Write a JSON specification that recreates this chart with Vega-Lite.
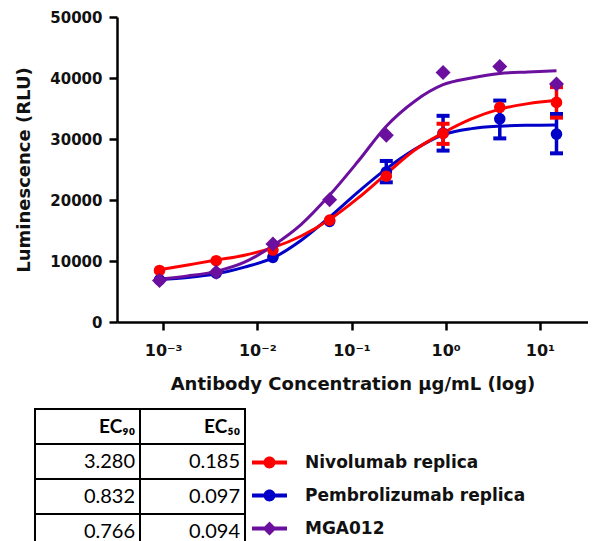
{
  "$schema": "https://vega.github.io/schema/vega-lite/v6.json",
  "background": "white",
  "padding": {"left": 15, "top": 10, "right": 0, "bottom": 0},
  "spacing": 15,
  "config": {"view": {"stroke": null}, "font": "DejaVu Sans"},
  "datasets": {
    "curves": [
      {"series": "Pembrolizumab replica", "conc": 0.000916, "rlu": 6950},
      {"series": "Pembrolizumab replica", "conc": 0.00183, "rlu": 7300},
      {"series": "Pembrolizumab replica", "conc": 0.00366, "rlu": 7900},
      {"series": "Pembrolizumab replica", "conc": 0.00732, "rlu": 9000},
      {"series": "Pembrolizumab replica", "conc": 0.01465, "rlu": 10500},
      {"series": "Pembrolizumab replica", "conc": 0.0293, "rlu": 13400},
      {"series": "Pembrolizumab replica", "conc": 0.0586, "rlu": 17200},
      {"series": "Pembrolizumab replica", "conc": 0.117, "rlu": 21300},
      {"series": "Pembrolizumab replica", "conc": 0.234, "rlu": 25100},
      {"series": "Pembrolizumab replica", "conc": 0.469, "rlu": 28300},
      {"series": "Pembrolizumab replica", "conc": 0.9375, "rlu": 30700},
      {"series": "Pembrolizumab replica", "conc": 1.875, "rlu": 31700},
      {"series": "Pembrolizumab replica", "conc": 3.75, "rlu": 32100},
      {"series": "Pembrolizumab replica", "conc": 7.5, "rlu": 32250},
      {"series": "Pembrolizumab replica", "conc": 15, "rlu": 32300},
      {"series": "Nivolumab replica", "conc": 0.000916, "rlu": 8550},
      {"series": "Nivolumab replica", "conc": 0.00183, "rlu": 9350},
      {"series": "Nivolumab replica", "conc": 0.00366, "rlu": 10150},
      {"series": "Nivolumab replica", "conc": 0.00732, "rlu": 10950},
      {"series": "Nivolumab replica", "conc": 0.01465, "rlu": 12200},
      {"series": "Nivolumab replica", "conc": 0.0293, "rlu": 14100},
      {"series": "Nivolumab replica", "conc": 0.0586, "rlu": 16800},
      {"series": "Nivolumab replica", "conc": 0.117, "rlu": 20300},
      {"series": "Nivolumab replica", "conc": 0.234, "rlu": 24300},
      {"series": "Nivolumab replica", "conc": 0.469, "rlu": 28200},
      {"series": "Nivolumab replica", "conc": 0.9375, "rlu": 31000},
      {"series": "Nivolumab replica", "conc": 1.875, "rlu": 33300},
      {"series": "Nivolumab replica", "conc": 3.75, "rlu": 34900},
      {"series": "Nivolumab replica", "conc": 7.5, "rlu": 35800},
      {"series": "Nivolumab replica", "conc": 15, "rlu": 36350},
      {"series": "MGA012", "conc": 0.000916, "rlu": 7050},
      {"series": "MGA012", "conc": 0.00183, "rlu": 7550},
      {"series": "MGA012", "conc": 0.00366, "rlu": 8300},
      {"series": "MGA012", "conc": 0.00732, "rlu": 9800},
      {"series": "MGA012", "conc": 0.01465, "rlu": 12500},
      {"series": "MGA012", "conc": 0.0293, "rlu": 16000},
      {"series": "MGA012", "conc": 0.0586, "rlu": 20800},
      {"series": "MGA012", "conc": 0.117, "rlu": 26300},
      {"series": "MGA012", "conc": 0.234, "rlu": 32100},
      {"series": "MGA012", "conc": 0.469, "rlu": 36200},
      {"series": "MGA012", "conc": 0.9375, "rlu": 38900},
      {"series": "MGA012", "conc": 1.875, "rlu": 40000},
      {"series": "MGA012", "conc": 3.75, "rlu": 40750},
      {"series": "MGA012", "conc": 7.5, "rlu": 41000},
      {"series": "MGA012", "conc": 15, "rlu": 41200}
    ],
    "points": [
      {"series": "Pembrolizumab replica", "conc": 0.000916, "rlu": 6900},
      {"series": "Pembrolizumab replica", "conc": 0.00366, "rlu": 8000},
      {"series": "Pembrolizumab replica", "conc": 0.01465, "rlu": 10600},
      {"series": "Pembrolizumab replica", "conc": 0.0586, "rlu": 16500},
      {"series": "Pembrolizumab replica", "conc": 0.234, "rlu": 24600, "lo": 22900, "hi": 26400},
      {"series": "Pembrolizumab replica", "conc": 0.9375, "rlu": 30950, "lo": 28100, "hi": 33800},
      {"series": "Pembrolizumab replica", "conc": 3.75, "rlu": 33300, "lo": 30100, "hi": 36300},
      {"series": "Pembrolizumab replica", "conc": 15, "rlu": 30800, "lo": 27650, "hi": 34100},
      {"series": "Nivolumab replica", "conc": 0.000916, "rlu": 8450},
      {"series": "Nivolumab replica", "conc": 0.00366, "rlu": 10050},
      {"series": "Nivolumab replica", "conc": 0.01465, "rlu": 11800},
      {"series": "Nivolumab replica", "conc": 0.0586, "rlu": 16700},
      {"series": "Nivolumab replica", "conc": 0.234, "rlu": 23900},
      {"series": "Nivolumab replica", "conc": 0.9375, "rlu": 30900, "lo": 29200, "hi": 32500},
      {"series": "Nivolumab replica", "conc": 3.75, "rlu": 35200},
      {"series": "Nivolumab replica", "conc": 15, "rlu": 36000, "lo": 33500, "hi": 38500},
      {"series": "MGA012", "conc": 0.000916, "rlu": 6800},
      {"series": "MGA012", "conc": 0.00366, "rlu": 8150},
      {"series": "MGA012", "conc": 0.01465, "rlu": 12800},
      {"series": "MGA012", "conc": 0.0586, "rlu": 20050},
      {"series": "MGA012", "conc": 0.234, "rlu": 30600},
      {"series": "MGA012", "conc": 0.9375, "rlu": 40900},
      {"series": "MGA012", "conc": 3.75, "rlu": 41900},
      {"series": "MGA012", "conc": 15, "rlu": 39000}
    ],
    "table": [
      {"row": "hdr", "col": "EC90", "label": "EC₉₀"},
      {"row": "hdr", "col": "EC50", "label": "EC₅₀"},
      {"row": "Nivolumab replica", "col": "EC90", "label": "3.280"},
      {"row": "Nivolumab replica", "col": "EC50", "label": "0.185"},
      {"row": "Pembrolizumab replica", "col": "EC90", "label": "0.832"},
      {"row": "Pembrolizumab replica", "col": "EC50", "label": "0.097"},
      {"row": "MGA012", "col": "EC90", "label": "0.766"},
      {"row": "MGA012", "col": "EC50", "label": "0.094"}
    ]
  },
  "vconcat": [
    {
      "width": 471,
      "height": 305,
      "encoding": {
        "x": {
          "field": "conc", "type": "quantitative",
          "scale": {"type": "log", "domain": [0.000324, 32.4], "nice": false},
          "axis": {
            "values": [0.001, 0.01, 0.1, 1, 10],
            "labelExpr": "datum.value < 0.005 ? '10⁻³' : datum.value < 0.05 ? '10⁻²' : datum.value < 0.5 ? '10⁻¹' : datum.value < 5 ? '10⁰' : '10¹'",
            "title": "Antibody Concentration µg/mL (log)",
            "grid": false,
            "domainColor": "black", "domainWidth": 2.5,
            "tickColor": "black", "tickWidth": 2.5, "tickSize": 8,
            "labelFont": "DejaVu Sans", "labelFontSize": 16, "labelFontWeight": "bold", "labelColor": "#111",
            "labelPadding": 12, "labelFlush": false, "labelOverlap": false,
            "titleFont": "DejaVu Sans", "titleFontSize": 18, "titleFontWeight": "bold", "titleColor": "#111",
            "titlePadding": 17
          }
        },
        "y": {
          "field": "rlu", "type": "quantitative",
          "scale": {"domain": [0, 50000], "nice": false},
          "axis": {
            "values": [0, 10000, 20000, 30000, 40000, 50000],
            "format": "d",
            "title": "Luminescence (RLU)",
            "grid": false,
            "domainColor": "black", "domainWidth": 2.5,
            "tickColor": "black", "tickWidth": 2.5, "tickSize": 8,
            "labelFont": "DejaVu Sans", "labelFontSize": 15, "labelFontWeight": "bold", "labelColor": "#111",
            "labelPadding": 7,
            "titleFont": "DejaVu Sans", "titleFontSize": 18, "titleFontWeight": "bold", "titleColor": "#111",
            "titlePadding": 16
          }
        },
        "color": {
          "field": "series", "type": "nominal",
          "scale": {"domain": ["Nivolumab replica", "Pembrolizumab replica", "MGA012"], "range": ["#FF0000", "#0000C8", "#6B0F9E"]}
        }
      },
      "layer": [
        {
          "data": {"name": "curves"},
          "mark": {"type": "line", "strokeWidth": 3, "interpolate": "monotone"}
        },
        {
          "data": {"name": "points"},
          "transform": [{"filter": "isValid(datum.lo)"}],
          "mark": {"type": "rule", "strokeWidth": 3.5, "opacity": 1},
          "encoding": {"y": {"field": "lo", "type": "quantitative"}, "y2": {"field": "hi"}}
        },
        {
          "data": {"name": "points"},
          "transform": [{"filter": "isValid(datum.lo)"}, {"fold": ["lo", "hi"], "as": ["bound", "val"]}],
          "mark": {"type": "tick", "orient": "horizontal", "size": 13, "thickness": 4, "opacity": 1},
          "encoding": {"y": {"field": "val", "type": "quantitative"}}
        },
        {
          "data": {"name": "points"},
          "transform": [{"filter": "datum.series != 'MGA012'"}],
          "mark": {"type": "point", "shape": "circle", "filled": true, "size": 135, "opacity": 1}
        },
        {
          "data": {"name": "points"},
          "transform": [{"filter": "datum.series == 'MGA012'"}],
          "mark": {"type": "point", "shape": "diamond", "filled": true, "size": 225, "opacity": 1}
        },
        {
          "data": {"name": "points"},
          "mark": {"type": "point", "filled": true, "opacity": 0},
          "encoding": {
            "color": {
              "field": "series", "type": "nominal",
              "legend": {
                "orient": "none", "legendX": 135, "legendY": 428, "title": null,
                "symbolSize": 1225, "symbolOpacity": 1, "symbolStrokeWidth": 0,
                "labelFont": "DejaVu Sans", "labelFontSize": 17, "labelFontWeight": "bold", "labelColor": "#111",
                "labelOffset": 18, "rowPadding": 7, "labelLimit": 400
              }
            },
            "shape": {
              "field": "series", "type": "nominal",
              "scale": {
                "domain": ["Nivolumab replica", "Pembrolizumab replica", "MGA012"],
                "range": [
                  "M-1,-0.11H1V0.11H-1Z M0.34,0A0.34,0.34,0,1,1,-0.34,0A0.34,0.34,0,1,1,0.34,0Z",
                  "M-1,-0.11H1V0.11H-1Z M0.34,0A0.34,0.34,0,1,1,-0.34,0A0.34,0.34,0,1,1,0.34,0Z",
                  "M-1,-0.11H1V0.11H-1Z M0,-0.4L0.4,0L0,0.4L-0.4,0Z"
                ]
              },
              "legend": {
                "orient": "none", "legendX": 135, "legendY": 428, "title": null,
                "symbolSize": 1225, "symbolOpacity": 1, "symbolStrokeWidth": 0,
                "labelFont": "DejaVu Sans", "labelFontSize": 17, "labelFontWeight": "bold", "labelColor": "#111",
                "labelOffset": 18, "rowPadding": 7, "labelLimit": 400
              }
            }
          }
        }
      ]
    },
    {
      "width": 128,
      "height": 140,
      "data": {"name": "table"},
      "encoding": {
        "x": {"field": "col", "type": "nominal", "scale": {"type": "band", "domain": ["EC90", "EC50"], "range": [-82, 128], "paddingInner": 0, "paddingOuter": 0}, "axis": null},
        "y": {"field": "row", "type": "nominal", "scale": {"type": "band", "domain": ["hdr", "Nivolumab replica", "Pembrolizumab replica", "MGA012"], "paddingInner": 0, "paddingOuter": 0}, "axis": null}
      },
      "layer": [
        {"mark": {"type": "rect", "fill": "white", "stroke": "black", "strokeWidth": 2}},
        {
          "transform": [{"filter": "datum.row == 'hdr'"}],
          "mark": {"type": "text", "align": "right", "baseline": "middle", "dx": -5, "font": "Lato", "fontWeight": "bold", "fontSize": 19, "color": "black"},
          "encoding": {"x": {"field": "col", "type": "nominal", "bandPosition": 1}, "text": {"field": "label"}}
        },
        {
          "transform": [{"filter": "datum.row != 'hdr'"}],
          "mark": {"type": "text", "align": "right", "baseline": "middle", "dx": -5, "font": "Lato", "fontSize": 20, "color": "black"},
          "encoding": {"x": {"field": "col", "type": "nominal", "bandPosition": 1}, "text": {"field": "label"}}
        }
      ]
    }
  ]
}
